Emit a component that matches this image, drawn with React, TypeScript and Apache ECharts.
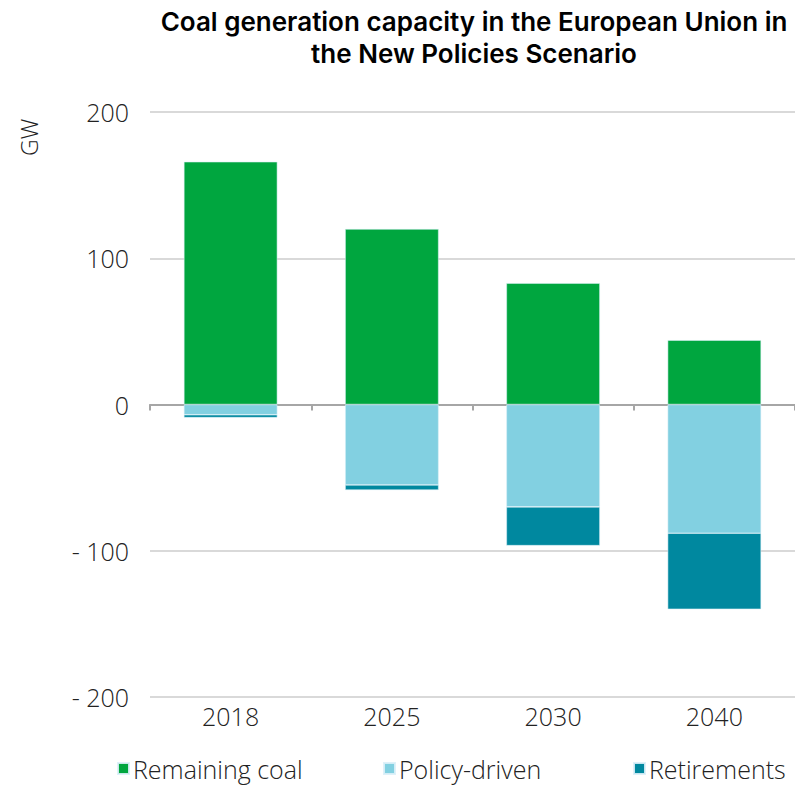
import React, { useEffect, useRef } from "react";
import * as echarts from "echarts";

const categories = ["2018", "2025", "2030", "2040"];
const remainingCoal = [166, 120, 83, 44];
const policyDriven = [-7, -55, -70, -88];
const retirements = [-2, -3.5, -26.5, -52];
const legendNames = ["Remaining coal", "Policy-driven", "Retirements"];
const colors = ["#00a63f", "#82d0e1", "#00889f"];
const yMin = -200;
const yMax = 200;
const yInterval = 100;

const FONT = "Open Sans";
const FS = 25;

export default function App() {
  const ref = useRef<HTMLDivElement>(null);
  useEffect(() => {
    document.body.style.margin = "0";
    const chart = echarts.init(ref.current!, null, { renderer: "svg" });
    const barCommon = {
      type: "bar" as const,
      stack: "total",
      barWidth: "58%",
      xAxisIndex: 0,
      itemStyle: { borderColor: "rgba(220,240,248,0.9)", borderWidth: 0.6 },
    };
    const legendLefts = [117, 383, 633];
    chart.setOption({
      animation: false,
      textStyle: { fontFamily: FONT },
      graphic: [
        {
          type: "text",
          x: 474,
          y: 5,
          style: {
            text: "Coal generation capacity in the European Union in\nthe New Policies Scenario",
            textAlign: "center",
            font: "600 26px Inter",
            lineHeight: 32,
            fill: "#000",
          },
        },
        {
          type: "text",
          x: 17,
          y: 156,
          rotation: Math.PI / 2,
          style: {
            text: "GW",
            font: "300 23px " + FONT,
            fill: "#222",
          },
        },
      ],
      grid: { left: 150, right: 0, top: 112, bottom: 92 },
      legend: legendNames.map((n, i) => ({
        data: [n],
        left: legendLefts[i],
        top: 756,
        itemWidth: 11,
        itemHeight: 11,
        itemGap: 0,
        padding: 0,
        icon: "rect",
        textStyle: { fontSize: FS, fontWeight: 300, color: "#222", fontFamily: FONT, padding: [0, 0, 0, -1] },
      })),
      xAxis: [
        {
          type: "category",
          data: categories,
          position: "bottom",
          axisLine: { show: false, onZero: false },
          axisTick: { show: false },
          axisLabel: { fontSize: FS, fontWeight: 300, color: "#222", margin: 6, fontFamily: FONT },
        },
        {
          type: "category",
          data: categories,
          position: "bottom",
          axisLine: { show: true, onZero: true, lineStyle: { color: "#a6a6a6", width: 2 } },
          axisTick: { show: true, length: 6, lineStyle: { color: "#a6a6a6", width: 2 } },
          axisLabel: { show: false },
        },
      ],
      yAxis: {
        type: "value",
        min: yMin,
        max: yMax,
        interval: yInterval,
        axisLine: { show: false },
        axisTick: { show: false },
        splitLine: { lineStyle: { color: "#d9d9d9", width: 2 } },
        axisLabel: {
          fontSize: FS,
          fontWeight: 300,
          color: "#222",
          margin: 21,
          fontFamily: FONT,
          formatter: (v: number) => (v < 0 ? "- " + Math.abs(v) : String(v)),
        },
      },
      series: [
        { ...barCommon, name: legendNames[0], data: remainingCoal, itemStyle: { ...barCommon.itemStyle, color: colors[0] } },
        { ...barCommon, name: legendNames[1], data: policyDriven, itemStyle: { ...barCommon.itemStyle, color: colors[1] } },
        { ...barCommon, name: legendNames[2], data: retirements, itemStyle: { ...barCommon.itemStyle, color: colors[2] } },
      ],
    });
    return () => chart.dispose();
  }, []);
  return <div ref={ref} style={{ width: 795, height: 789 }} />;
}
